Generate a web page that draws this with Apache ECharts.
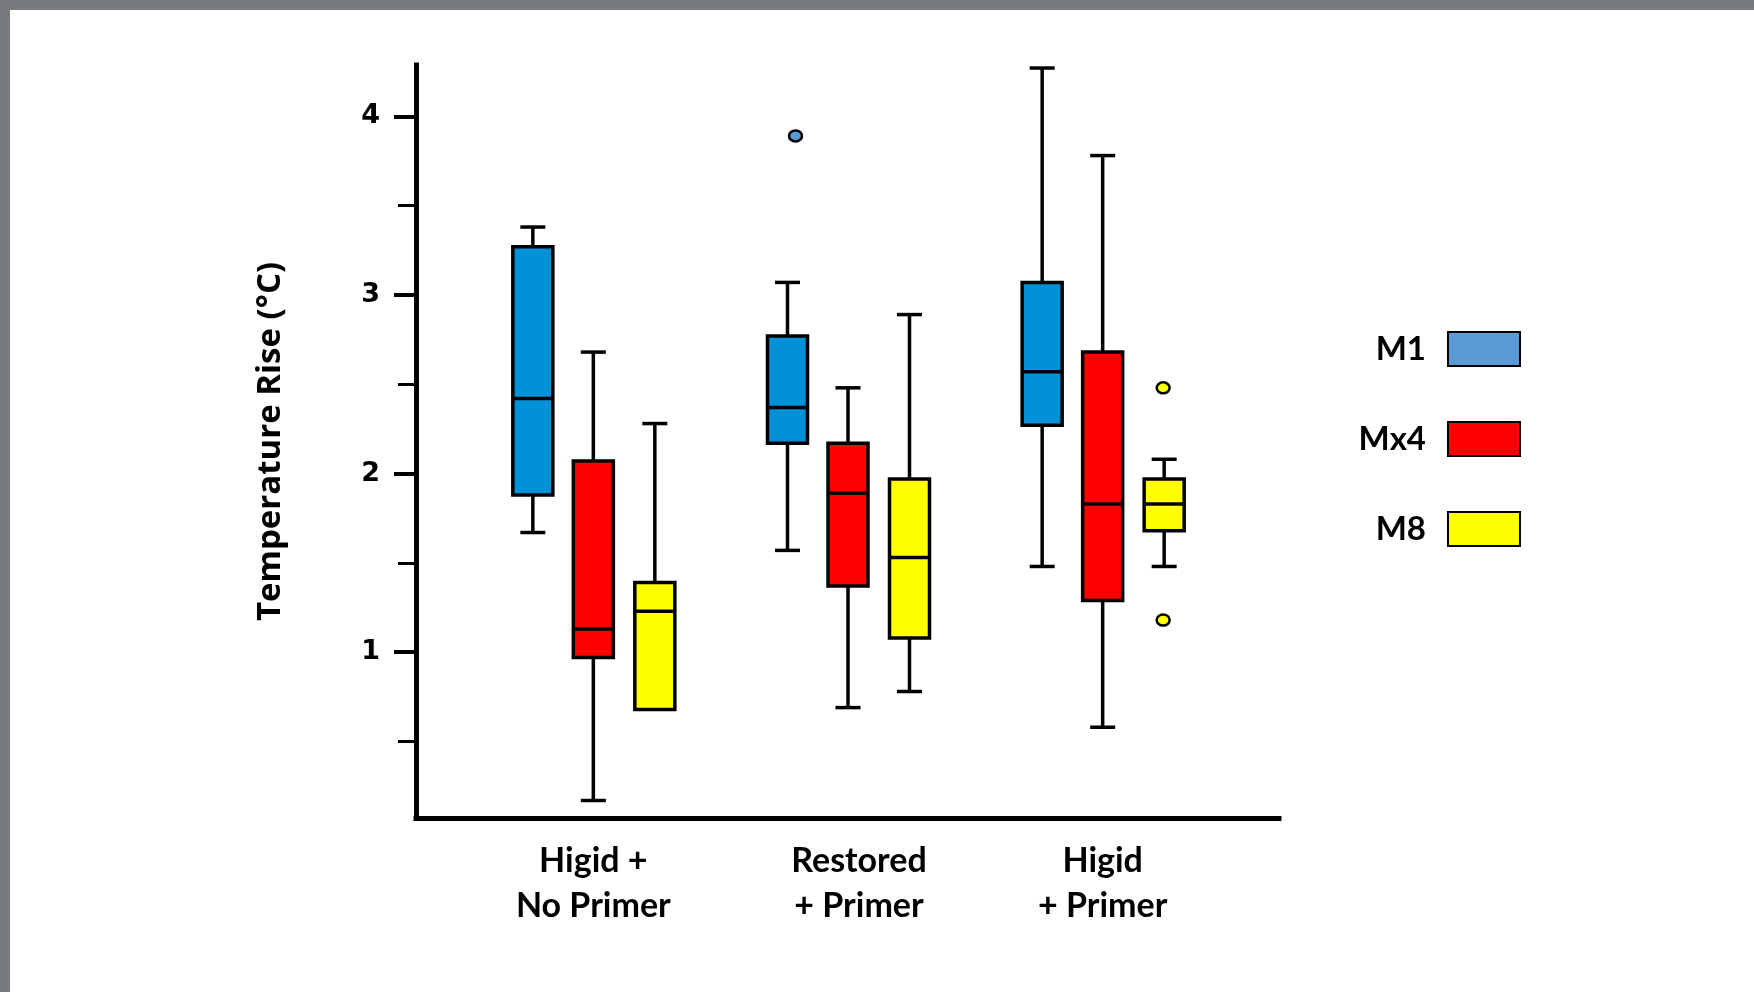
<!DOCTYPE html>
<html>
<head>
<meta charset="utf-8">
<title>Temperature Rise</title>
<script src="https://cdn.jsdelivr.net/npm/echarts@6/dist/echarts.min.js"></script>
<style>
  html, body { margin: 0; padding: 0; background: #fff; }
  #chart { width: 1754px; height: 992px; }
</style>
</head>
<body>
<div id="chart"></div>
<script>
// categories on the x axis
var categories = ["Higid +\nNo Primer", "Restored\n+ Primer", "Higid\n+ Primer"];
var seriesNames = ["M1", "Mx4", "M8"];

// [min, Q1, median, Q3, max] for each category
var m1Stats = [
  [1.67, 1.88, 2.42, 3.27, 3.38],
  [1.57, 2.17, 2.37, 2.77, 3.07],
  [1.48, 2.27, 2.57, 3.07, 4.27]
];
var mx4Stats = [
  [0.17, 0.97, 1.13, 2.07, 2.68],
  [0.69, 1.37, 1.89, 2.17, 2.48],
  [0.58, 1.29, 1.83, 2.68, 3.78]
];
var m8Stats = [
  [0.68, 0.68, 1.23, 1.39, 2.28],
  [0.78, 1.08, 1.53, 1.97, 2.89],
  [1.48, 1.68, 1.83, 1.97, 2.08]
];

// outliers: [category index, value]
var m1Outliers = [[1, 3.89]];
var m8Outliers = [[2, 2.48], [2, 1.18]];

var yMajorTicks = [1, 2, 3, 4];
var yMinorTicks = [0.5, 1.5, 2.5, 3.5];
var yMin = 0.072;
var yMax = 4.287;

var boxFill = { M1: "#0091d9", Mx4: "#ff0000", M8: "#ffff00" };
var legendFill = { M1: "#5b9bd5", Mx4: "#ff0000", M8: "#ffff00" };
var outlierFill = { M1: "#5b9bd5", M8: "#ffff00" };

var textFont = "Lato";
var BOX_W = 40, CAP_W = 25, LW = 3.5;

function withIndex(stats) {
  return stats.map(function (s, i) { return [i].concat(s); });
}

function boxRenderer(shift) {
  return function (params, api) {
    var c = api.value(0);
    var lo = api.coord([c, api.value(1)]);
    var q1 = api.coord([c, api.value(2)]);
    var md = api.coord([c, api.value(3)]);
    var q3 = api.coord([c, api.value(4)]);
    var hi = api.coord([c, api.value(5)]);
    var x = lo[0] + shift;
    var ln = { stroke: "#000", lineWidth: LW };
    var kids = [];
    if (hi[1] < q3[1] - 0.5) {
      kids.push({ type: "line", shape: { x1: x, y1: q3[1], x2: x, y2: hi[1] }, style: ln });
      kids.push({ type: "line", shape: { x1: x - CAP_W / 2, y1: hi[1], x2: x + CAP_W / 2, y2: hi[1] }, style: ln });
    }
    if (lo[1] > q1[1] + 0.5) {
      kids.push({ type: "line", shape: { x1: x, y1: q1[1], x2: x, y2: lo[1] }, style: ln });
      kids.push({ type: "line", shape: { x1: x - CAP_W / 2, y1: lo[1], x2: x + CAP_W / 2, y2: lo[1] }, style: ln });
    }
    kids.push({
      type: "rect",
      shape: { x: x - BOX_W / 2, y: q3[1], width: BOX_W, height: q1[1] - q3[1] },
      style: { fill: api.visual("color"), stroke: "#000", lineWidth: LW }
    });
    kids.push({ type: "line", shape: { x1: x - BOX_W / 2, y1: md[1], x2: x + BOX_W / 2, y2: md[1] }, style: ln });
    return { type: "group", children: kids };
  };
}

function outlierRenderer(shift, fill) {
  return function (params, api) {
    var p = api.coord([api.value(0), api.value(1)]);
    return {
      type: "ellipse",
      shape: { cx: p[0] + shift, cy: p[1], rx: 6.5, ry: 5.5 },
      style: { fill: fill, stroke: "#000", lineWidth: 2.5 }
    };
  };
}

var shifts = { M1: -60.5, Mx4: 0, M8: 61.5 };
var statsByName = { M1: m1Stats, Mx4: mx4Stats, M8: m8Stats };

var series = seriesNames.map(function (name) {
  return {
    name: name,
    type: "custom",
    xAxisIndex: 2,
    yAxisIndex: 2,
    itemStyle: { color: boxFill[name] },
    renderItem: boxRenderer(shifts[name]),
    encode: { x: 0, y: [1, 2, 3, 4, 5] },
    data: withIndex(statsByName[name]),
    z: 3
  };
});
series.push({
  name: "M1", type: "custom", xAxisIndex: 2, yAxisIndex: 2,
  itemStyle: { color: outlierFill.M1 },
  renderItem: outlierRenderer(shifts.M1 + 8, outlierFill.M1),
  encode: { x: 0, y: 1 }, data: m1Outliers, z: 4
});
series.push({
  name: "M8", type: "custom", xAxisIndex: 2, yAxisIndex: 2,
  itemStyle: { color: outlierFill.M8 },
  renderItem: outlierRenderer(shifts.M8 - 1, outlierFill.M8),
  encode: { x: 0, y: 1 }, data: m8Outliers, z: 4
});

var frameGrid = { left: 416, right: 475, top: 65, bottom: 174 };
var dataGrid = { left: 466, right: 524, top: 65, bottom: 174 };

// the middle label sits a little right of its group in the original
var categoryData = categories.map(function (c, i) {
  return i === 1 ? { value: c, textStyle: { padding: [0, 0, 0, 22] } } : c;
});

var option = {
  backgroundColor: "#fff",
  animation: false,
  grid: [frameGrid, frameGrid, dataGrid],
  xAxis: [
    {
      gridIndex: 0, type: "value", min: 0, max: 1,
      axisLine: { show: true, lineStyle: { color: "#000", width: 5, cap: "square" } },
      axisTick: { show: false }, axisLabel: { show: false }, splitLine: { show: false }
    },
    {
      gridIndex: 1, type: "value", min: 0, max: 1, show: false
    },
    {
      gridIndex: 2, type: "category", data: categoryData,
      axisLine: { show: false }, axisTick: { show: false }, splitLine: { show: false },
      axisLabel: {
        margin: 21, color: "#000", fontFamily: textFont, fontWeight: "bold",
        fontSize: 34, lineHeight: 45, interval: 0
      }
    }
  ],
  yAxis: [
    {
      gridIndex: 0, type: "value", min: yMin, max: yMax,
      name: "Temperature Rise (\u00b0C)", nameLocation: "middle", nameRotate: 90, nameGap: 129,
      nameTextStyle: { color: "#000", fontFamily: "Open Sans", fontWeight: "bold", fontSize: 33, lineHeight: 33 },
      axisLine: { show: true, lineStyle: { color: "#000", width: 5, cap: "square" } },
      axisTick: { show: true, length: 22, customValues: yMajorTicks, lineStyle: { color: "#000", width: 4 } },
      axisLabel: {
        customValues: yMajorTicks, margin: 36, color: "#000",
        fontFamily: "DejaVu Sans", fontWeight: "bold", fontSize: 27
      },
      splitLine: { show: false }
    },
    {
      gridIndex: 1, type: "value", min: yMin, max: yMax,
      axisLine: { show: false },
      axisTick: { show: true, length: 18, customValues: yMinorTicks, lineStyle: { color: "#000", width: 3 } },
      axisLabel: { show: false },
      splitLine: { show: false }
    },
    {
      gridIndex: 2, type: "value", min: yMin, max: yMax, show: false
    }
  ],
  legend: {
    orient: "vertical", right: 233, top: 331, padding: 0,
    align: "right", icon: "rect",
    itemWidth: 72, itemHeight: 34, itemGap: 54,
    selectedMode: false,
    textStyle: {
      color: "#000", fontFamily: textFont, fontWeight: "bold", fontSize: 33,
      lineHeight: 34, padding: [0, 17, 0, 0]
    },
    data: seriesNames.map(function (name) {
      return { name: name, itemStyle: { color: legendFill[name], borderColor: "#000", borderWidth: 2 } };
    })
  },
  graphic: [
    { type: "rect", left: 0, top: 0, shape: { width: 1754, height: 10 }, style: { fill: "#787b7e" }, z: 100 },
    { type: "rect", left: 0, top: 0, shape: { width: 10, height: 992 }, style: { fill: "#787b7e" }, z: 100 }
  ],
  series: series
};

var chart = echarts.init(document.getElementById("chart"));
chart.setOption(option);
window.addEventListener("resize", function () { chart.resize(); });
</script>
</body>
</html>
